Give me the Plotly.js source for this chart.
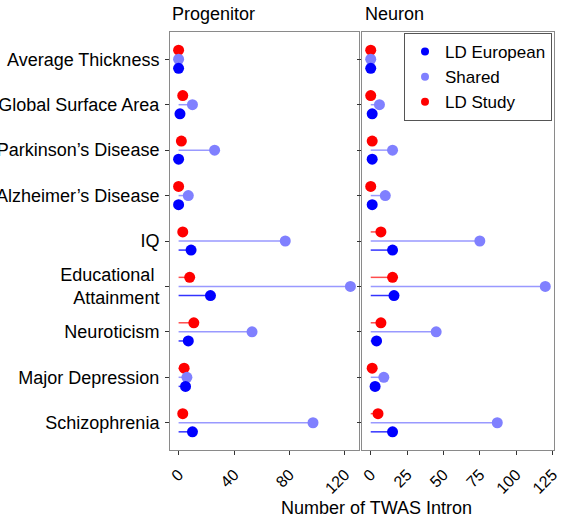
<!DOCTYPE html>
<html>
<head>
<meta charset="utf-8">
<script src="https://cdn.plot.ly/plotly-3.0.1.min.js"></script>
<style>html,body{margin:0;padding:0;background:#fff;}#chart{width:563px;height:522px;}</style>
</head>
<body>
<div id="chart"></div>
<script>
// ---- data ----
const categories = ['Average Thickness', 'Global Surface Area', 'Parkinson\u2019s Disease', 'Alzheimer\u2019s Disease', 'IQ', 'Educational\u00a0<br>Attainment', 'Neuroticism', 'Major Depression', 'Schizophrenia'];
const panels = ['Progenitor', 'Neuron'];
const seriesNames = ['LD European', 'Shared', 'LD Study'];

const progenitorEuropean = [0, 1, 0, 0, 9, 23, 7, 5, 10];
const progenitorShared   = [0, 10, 26, 7, 77, 124, 53, 6, 97];
const progenitorStudy    = [0, 3, 2, 0, 3, 8, 11, 4, 3];

const neuronEuropean = [0, 1, 1, 1, 15, 16, 4, 3, 15];
const neuronShared   = [0, 6, 15, 10, 75, 120, 45, 9, 87];
const neuronStudy    = [0, 0, 1, 0, 7, 15, 7, 1, 5];

const progenitorTicks = [0, 40, 80, 120];
const neuronTicks = [0, 25, 50, 75, 100, 125];

// ---- styles ----
const colors = {'LD European': '#0000ff', 'Shared': '#8080ff', 'LD Study': '#ff0000'};
const lineColors = {'LD European': 'rgba(0,0,255,0.8)', 'Shared': 'rgba(128,128,255,0.8)', 'LD Study': 'rgba(255,0,0,0.7)'};
const dodge = {'LD European': 0.2, 'Shared': 0, 'LD Study': -0.2};
const FONT = 'Liberation Sans, Arial, sans-serif';

const panelData = [
  {xa: 'x', ya: 'y', series: {'LD European': progenitorEuropean, 'Shared': progenitorShared, 'LD Study': progenitorStudy}},
  {xa: 'x2', ya: 'y2', series: {'LD European': neuronEuropean, 'Shared': neuronShared, 'LD Study': neuronStudy}}
];

const traces = [];
// segments
panelData.forEach(p => {
  ['LD Study', 'Shared', 'LD European'].forEach(s => {
    const xs = [], ys = [];
    p.series[s].forEach((v, i) => { xs.push(0, v, null); ys.push(i + dodge[s], i + dodge[s], null); });
    traces.push({type: 'scatter', mode: 'lines', x: xs, y: ys, xaxis: p.xa, yaxis: p.ya,
      line: {color: lineColors[s], width: 1.5}, showlegend: false, hoverinfo: 'skip'});
  });
});
// points
panelData.forEach(p => {
  ['LD Study', 'Shared', 'LD European'].forEach(s => {
    traces.push({type: 'scatter', mode: 'markers', x: p.series[s], y: p.series[s].map((v, i) => i + dodge[s]),
      xaxis: p.xa, yaxis: p.ya, name: s, marker: {color: colors[s], size: 11}, showlegend: false});
  });
});
// legend entries
seriesNames.forEach(s => {
  traces.push({type: 'scatter', mode: 'markers', x: [null], y: [null], xaxis: 'x2', yaxis: 'y2',
    name: s, marker: {color: colors[s], size: 8}, showlegend: true});
});

const yTop = 32, yBot = 450, W = 563, H = 522;
const yBase = {
  domain: [1 - yBot / H, 1 - yTop / H], range: [categories.length - 0.4, -0.6],
  tickmode: 'array', tickvals: categories.map((c, i) => i), ticktext: categories,
  ticks: 'outside', ticklen: 4, tickcolor: '#333', showgrid: false, zeroline: false,
  showline: true, mirror: true, linecolor: '#8a8a8a', linewidth: 1,
  tickfont: {family: FONT, size: 18, color: '#000'}, ticklabelstandoff: 2
};
const xBase = {
  tickangle: -45, ticks: 'outside', ticklen: 4, tickcolor: '#333', showgrid: false, zeroline: false,
  showline: true, mirror: true, linecolor: '#8a8a8a', linewidth: 1,
  tickfont: {family: FONT, size: 16, color: '#000'}, tickmode: 'array',
  ticklabelstandoff: 4
};

const layout = {
  width: W, height: H, margin: {l: 0, r: 0, t: 0, b: 0},
  paper_bgcolor: '#fff', plot_bgcolor: '#fff',
  font: {family: FONT, color: '#000'},
  xaxis: Object.assign({}, xBase, {domain: [170 / W, 359 / W], range: [-6.2, 130.2], anchor: 'y', tickvals: progenitorTicks, ticktext: progenitorTicks.map(String)}),
  xaxis2: Object.assign({}, xBase, {domain: [362 / W, 554 / W], range: [-6, 126], anchor: 'y2', tickvals: neuronTicks, ticktext: neuronTicks.map(String)}),
  yaxis: Object.assign({}, yBase, {anchor: 'x'}),
  yaxis2: Object.assign({}, yBase, {anchor: 'x2', showticklabels: false}),
  showlegend: true,
  legend: {x: 552 / W, xanchor: 'right', y: 1 - 33 / H, yanchor: 'top', bgcolor: '#fff',
    bordercolor: '#555', borderwidth: 1, font: {family: FONT, size: 17, color: '#000'},
    itemwidth: 30, tracegroupgap: 0},
  annotations: [
    {text: panels[0], xref: 'paper', yref: 'paper', x: 170 / W, y: 1 - 14 / H, xanchor: 'left', yanchor: 'middle', showarrow: false, font: {family: FONT, size: 18}},
    {text: panels[1], xref: 'paper', yref: 'paper', x: 363 / W, y: 1 - 14 / H, xanchor: 'left', yanchor: 'middle', showarrow: false, font: {family: FONT, size: 18}},
    {text: 'Number of TWAS Intron', xref: 'paper', yref: 'paper', x: 376 / W, y: 1 - 508 / H, xanchor: 'center', yanchor: 'middle', showarrow: false, font: {family: FONT, size: 18}}
  ]
};

Plotly.newPlot('chart', traces, layout, {displayModeBar: false, staticPlot: true});
</script>
</body>
</html>
